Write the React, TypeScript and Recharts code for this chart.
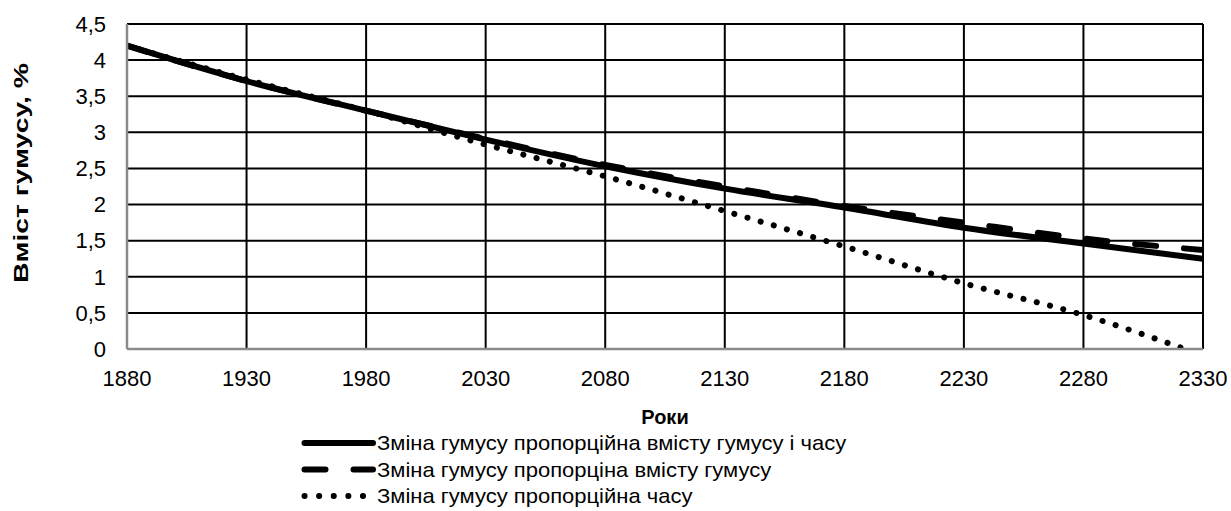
import React from 'react';
import { LineChart, Line, XAxis, YAxis, CartesianGrid } from 'recharts';

const years = [1880, 1930, 1980, 2030, 2080, 2130, 2180, 2230, 2280, 2330];
const humusTimeContent = [4.2, 3.71, 3.3, 2.9, 2.53, 2.22, 1.96, 1.68, 1.46, 1.25];
const humusContent = [4.2, 3.71, 3.3, 2.91, 2.55, 2.25, 1.98, 1.75, 1.53, 1.37];
const humusTime = [4.2, 3.73, 3.3, 2.83, 2.39, 1.91, 1.42, 0.91, 0.47, -0.09];
const yTicks = [0, 0.5, 1, 1.5, 2, 2.5, 3, 3.5, 4, 4.5];

const SERIES = [
  { key: 'a', name: 'Зміна гумусу пропорційна вмісту гумусу і часу', dash: undefined as string | undefined, legendDash: undefined as string | undefined },
  { key: 'b', name: 'Зміна гумусу  пропорціна вмісту гумусу', dash: '21 28', legendDash: '21 28' },
  { key: 'c', name: 'Зміна гумусу пропорційна часу', dash: '0.1 13.6', legendDash: '0.1 14.5' },
];

const data = years.map((y, i) => ({ year: y, a: humusTimeContent[i], b: humusContent[i], c: humusTime[i] }));

const FONT = '"Liberation Sans", Arial, sans-serif';
const fmt = (v: number) => String(v).replace('.', ',');

export default function App() {
  return (
    <div style={{ position: 'absolute', left: 0, top: 0, width: 1231, height: 511, background: '#fff' }}>
      <LineChart width={1231} height={511} data={data}
        margin={{ top: 24, right: 28, left: 47, bottom: 132 }}>
        <CartesianGrid stroke="#000" strokeWidth={2} />
        <XAxis dataKey="year" type="number" domain={[1880, 2330]} ticks={years} height={30}
          tickLine={false} axisLine={{ stroke: '#8a8a8a', strokeWidth: 2.5 }}
          tick={{ fontSize: 22, fill: '#000', fontFamily: FONT }} tickMargin={15}
          allowDataOverflow />
        <YAxis type="number" domain={[0, 4.5]} ticks={yTicks} width={80}
          tickLine={false} axisLine={{ stroke: '#8a8a8a', strokeWidth: 2.5 }}
          tick={{ fontSize: 22, fill: '#000', fontFamily: FONT }} tickFormatter={fmt}
          tickMargin={15} allowDataOverflow />
        {SERIES.map(s => (
          <Line key={s.key} dataKey={s.key} name={s.name} type="monotone" stroke="#000"
            strokeWidth={6} strokeDasharray={s.dash} strokeLinecap="round"
            dot={false} activeDot={false} isAnimationActive={false} />
        ))}
        <text x={665} y={424} textAnchor="middle" fontSize={20} fontWeight="bold" fontFamily={FONT} fill="#000">Роки</text>
        <text x={0} y={0} transform="translate(28 173) rotate(-90)" textAnchor="middle" fontSize={20}
          fontWeight="bold" fontFamily={FONT} fill="#000" textLength={220} lengthAdjust="spacingAndGlyphs">Вміст гумусу, %</text>
        {SERIES.map((s, i) => (
          <g key={'lg' + s.key} transform={`translate(302 ${443 + i * 26.5})`}>
            <line x1={2.5} x2={71} y1={0} y2={0} stroke="#000" strokeWidth={6}
              strokeLinecap="round" strokeDasharray={s.legendDash} />
            <text x={0} y={0} transform="translate(75 7) scale(1.1 1)" fontSize={20}
              fontFamily={FONT} fill="#000">{s.name}</text>
          </g>
        ))}
      </LineChart>
    </div>
  );
}
